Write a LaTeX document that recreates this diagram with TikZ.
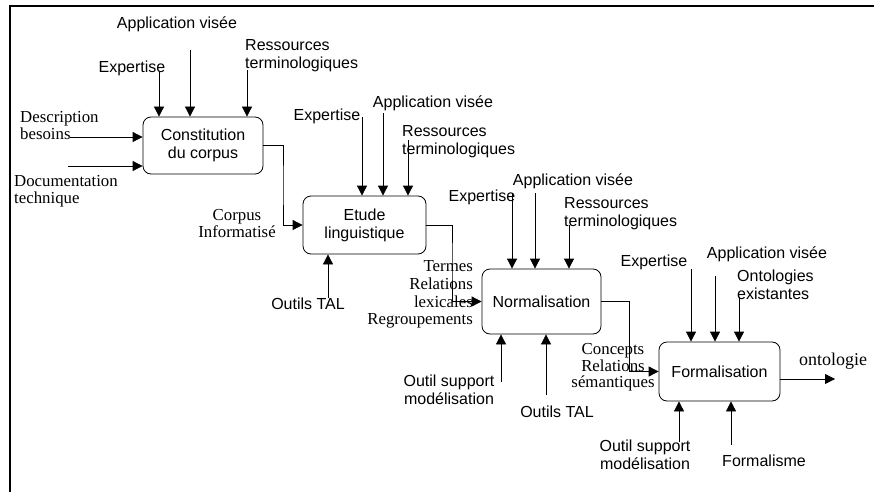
\documentclass[tikz,border=0pt]{standalone}
\usepackage{fontspec}
\setmainfont{Liberation Serif}
\setsansfont{Liberation Sans}
\usetikzlibrary{arrows.meta}
\tikzset{
    box/.style={draw, rounded corners=8pt, line width=0.8pt, inner sep=0pt, align=center,
      font=\sffamily\fontsize{16}{18}\selectfont},
    lab/.style={inner sep=0pt, align=center, font=\sffamily\fontsize{16}{18}\selectfont},
    ser/.style={inner sep=0pt, align=center, font=\rmfamily\fontsize{16.8}{17}\selectfont},
    arr/.style={-{Triangle[width=10pt,length=10pt]}, line width=0.8pt},
  }
\begin{document}
\begin{tikzpicture}[x=1pt,y=-1pt]
				  %cadre
				  \useasboundingbox (0,0) rectangle (874,492);
				  \draw[line width=1.5pt] (10,492) -- (10,6) -- (874,6);
				  
				  %activites
				  \node[box, minimum width=120pt, minimum height=57pt] (c1) at (203,145.5) {Constitution\\du corpus};
				  \node[box, minimum width=123pt, minimum height=58pt] (c2) at (364.5,225) {Etude\\linguistique};
				  \node[box, minimum width=119pt, minimum height=65pt] (c3) at (541.5,301.5) {Normalisation};
				  \node[box, minimum width=121pt, minimum height=59pt] (c4) at (719.5,371.5) {Formalisation};
				  
				  %constitution du corpus
				  \node[lab] (ex1) at (132,68) {Expertise};
				  \node[lab] (av1) at (177,24) {Application visée};
				  \node[lab, anchor=west, align=left] (rt1) at (245,56) {Ressources\\terminologiques};
				  \node[ser, anchor=west, align=left, font=\rmfamily\fontsize{16.8}{15}\selectfont] (db) at (20,125.5) {Description\\besoins};
				  \node[ser, anchor=west, align=left] (dt) at (14,191) {Documentation\\technique};
				  \coordinate(e1) at (159,72);
				  \coordinate(a1) at (190,50);
				  \coordinate(r1) at (247,70);
				  \coordinate(d1) at (70,137);
				  \coordinate(t1) at (68,166);
				  \draw[arr] (e1) -- (e1 |- c1.north);
				  \draw[arr] (a1) -- (a1 |- c1.north);
				  \draw[arr] (r1) -- (r1 |- c1.north);
				  \draw[arr] (d1) -- (d1 -| c1.west);
				  \draw[arr] (t1) -- (t1 -| c1.west);
				  
				  %etude linguistique
				  \node[ser, font=\rmfamily\fontsize{16.8}{11}\selectfont] (ci) at (237,223.5) {Corpus\\Informatisé};
				  \coordinate(k1) at (283,185);
				  \draw[arr] (c1.east) -| (k1) |- (c2.west);
				  \node[lab] (ex2) at (327,116) {Expertise};
				  \node[lab] (av2) at (433,103) {Application visée};
				  \node[lab, anchor=west, align=left] (rt2) at (402,142) {Ressources\\terminologiques};
				  \node[lab] (ot2) at (308,304) {Outils TAL};
				  \coordinate(e2) at (362,117);
				  \coordinate(a2) at (383,113);
				  \coordinate(r2) at (408,140);
				  \coordinate(o2) at (328,298);
				  \draw[arr] (e2) -- (e2 |- c2.north);
				  \draw[arr] (a2) -- (a2 |- c2.north);
				  \draw[arr] (r2) -- (r2 |- c2.north);
				  \draw[arr] (o2) -- (o2 |- c2.south);
				  
				  %normalisation
				  \node[ser, anchor=east, align=right, font=\rmfamily\fontsize{16.8}{17.7}\selectfont] (tr) at (473,294.5) {Termes\\Relations\\lexicales\\Regroupements};
				  \coordinate(k2) at (452,260);
				  \draw[arr] (c2.east) -| (k2) |- (c3.west);
				  \node[lab] (ex3) at (482,197) {Expertise};
				  \node[lab] (av3) at (573,181) {Application visée};
				  \node[lab, anchor=west, align=left] (rt3) at (564,213.5) {Ressources\\terminologiques};
				  \node[lab] (os3) at (449,390) {Outil support\\modélisation};
				  \node[lab] (ot3) at (557,412) {Outils TAL};
				  \coordinate(e3) at (512,193);
				  \coordinate(a3) at (535,193);
				  \coordinate(r3) at (569,225);
				  \coordinate(s3) at (501,382);
				  \coordinate(o3) at (546,395);
				  \draw[arr] (e3) -- (e3 |- c3.north);
				  \draw[arr] (a3) -- (a3 |- c3.north);
				  \draw[arr] (r3) -- (r3 |- c3.north);
				  \draw[arr] (s3) -- (s3 |- c3.south);
				  \draw[arr] (o3) -- (o3 |- c3.south);
				  
				  %formalisation
				  \node[ser, font=\rmfamily\fontsize{16.8}{16.5}\selectfont] (cr) at (613,367.5) {Concepts\\Relations\\sémantiques};
				  \coordinate(k3) at (629,340);
				  \draw[arr] (c3.east) -| (k3) |- (c4.west);
				  \node[lab] (ex4) at (654,262) {Expertise};
				  \node[lab] (av4) at (767,254) {Application visée};
				  \node[lab, anchor=west, align=left] (oe4) at (737,284.5) {Ontologies\\existantes};
				  \node[lab] (os4) at (645,454.5) {Outil support\\modélisation};
				  \node[lab] (fo4) at (764,461) {Formalisme};
				  \coordinate(e4) at (691,269);
				  \coordinate(a4) at (715,276);
				  \coordinate(x4) at (739,297);
				  \coordinate(s4) at (679,442);
				  \coordinate(f4) at (731,445);
				  \draw[arr] (e4) -- (e4 |- c4.north);
				  \draw[arr] (a4) -- (a4 |- c4.north);
				  \draw[arr] (x4) -- (x4 |- c4.north);
				  \draw[arr] (s4) -- (s4 |- c4.south);
				  \draw[arr] (f4) -- (f4 |- c4.south);
				  
				  %sortie
				  \node[ser, anchor=west, font=\rmfamily\fontsize{18}{20}\selectfont] (on) at (799,361) {ontologie};
				  \coordinate(out) at (835,379);
				  \draw[arr] (c4.east |- out) -- (out);
\end{tikzpicture}
\end{document}
